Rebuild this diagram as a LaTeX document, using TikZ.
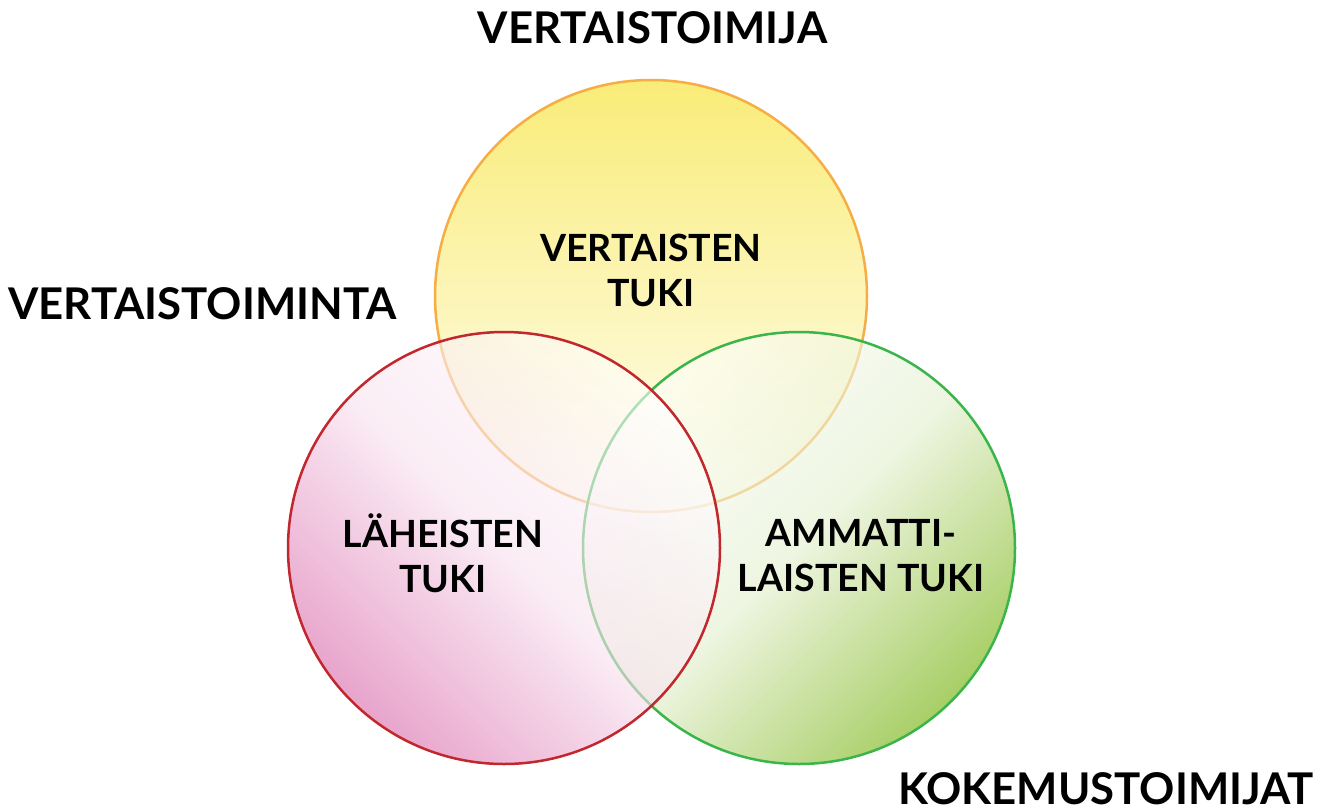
\documentclass[tikz,border=0pt]{standalone}
\usepackage{fontspec}
\setmainfont{Lato}
\usepackage{tikz}
\usetikzlibrary{positioning}
\definecolor{vtline}{HTML}{F7AD45}
\definecolor{vttop}{HTML}{F9EC78}
\definecolor{vtbot}{HTML}{FFFEF6}
\definecolor{laline}{HTML}{C1272D}
\definecolor{lafill}{HTML}{D968AA}
\definecolor{amline}{HTML}{3AB54A}
\definecolor{amfill}{HTML}{6EAE00}

\begin{document}
\begin{tikzpicture}[x=1pt,y=-1pt,
  ring/.style={circle,minimum size=432pt,inner sep=0pt,line width=2.5pt},
  big/.style={font=\fontsize{43.7}{50}\selectfont\bfseries,anchor=base},
  inside/.style={font=\fontsize{37.5}{45}\selectfont\bfseries,align=center}]

\useasboundingbox (0,0) rectangle (1331,809);

  \node[ring,draw=vtline,top color=vttop,bottom color=vtbot]			(vt)	at (651,296)	{};
  \node[ring,draw=amline,fill opacity=.6,top color=white,bottom color=amfill,middle color=amfill!20!white,shading angle=45]	(am)	at (799,548)	{};
  \node[ring,draw=laline,fill opacity=.6,top color=white,bottom color=lafill,middle color=lafill!20!white,shading angle=-45]	(la)	at (504,548)	{};

  \node[inside]	(vtt)	at (651,270)	{VERTAISTEN\\TUKI};
  \node[inside]	(lat)	at (443,553)	{LÄHEISTEN\\TUKI};
  \node[inside]	(amt)	at (861,556)	{AMMATTI-\\LAISTEN TUKI};

  \node[big]	(vtl)	at (652.5,43)	{VERTAISTOIMIJA};
  \node[big]	(lal)	at (202.5,319)	{VERTAISTOIMINTA};
  \node[big]	(aml)	at (1106,804)	{KOKEMUSTOIMIJAT};
\end{tikzpicture}
\end{document}
